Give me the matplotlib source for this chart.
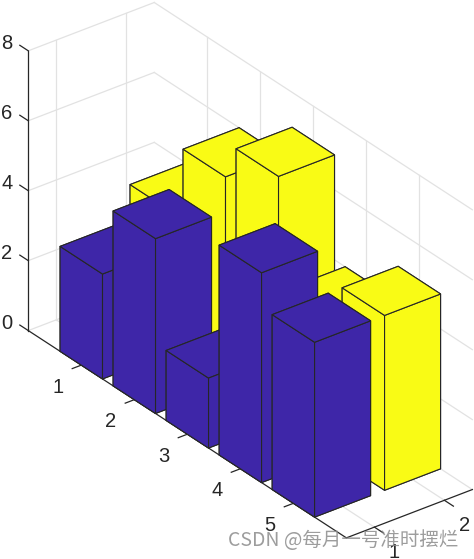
import matplotlib
matplotlib.use("Agg")
import matplotlib.pyplot as plt
from mpl_toolkits.mplot3d import proj3d

rows = [1, 2, 3, 4, 5]
blue_vals = [3, 5, 2, 6, 5]
yellow_vals = [4, 6, 7, 4, 5]
x_ticks = [1, 2]
y_ticks = [1, 2, 3, 4, 5]
z_ticks = [0, 2, 4, 6, 8]

BLUE = "#3E26A8"
YELLOW = "#F9FB15"
DARK = "#262626"
GRID = "#E2E2E2"
W = 0.8
x0, x1 = 0.6, 2.4
y0, y1 = 0, 6
z0, z1 = 0, 8

plt.rcParams["font.family"] = ["Liberation Sans", "DejaVu Sans"]

fig = plt.figure(figsize=(4.74, 5.59), dpi=100)
S = 616
cx, cy = 242, 278.5
ax = fig.add_axes([(cx - S / 2) / 474, 1 - (cy + S / 2) / 559, S / 474, S / 559],
                  projection="3d", computed_zorder=False)
ax.set_proj_type("ortho")
ax.view_init(elev=30, azim=-127.5)
ax.set_box_aspect((158.9, 523, 323.3))
ax.set_xlim(x0, x1)
ax.set_ylim(y1, y0)
ax.set_zlim(z0, z1)
ax.set_axis_off()
ax.patch.set_alpha(0)

# grid on the two back walls and the floor
for z in z_ticks:
    ax.plot([x0, x1], [y0, y0], [z, z], color=GRID, lw=0.9, zorder=1)
    ax.plot([x1, x1], [y0, y1], [z, z], color=GRID, lw=0.9, zorder=1)
for x in x_ticks:
    ax.plot([x, x], [y0, y0], [z0, z1], color=GRID, lw=0.9, zorder=1)
    ax.plot([x, x], [y0, y1], [z0, z0], color=GRID, lw=0.9, zorder=1)
for y in y_ticks:
    ax.plot([x1, x1], [y, y], [z0, z1], color=GRID, lw=0.9, zorder=1)
    ax.plot([x0, x1], [y, y], [z0, z0], color=GRID, lw=0.9, zorder=1)

# axis lines and tick marks
ax.plot([x0, x0], [y0, y0], [z0, z1], color=DARK, lw=0.9, zorder=1.5)
ax.plot([x0, x0], [y0, y1], [z0, z0], color=DARK, lw=0.9, zorder=1.5)
ax.plot([x0, x1], [y1, y1], [z0, z0], color=DARK, lw=0.9, zorder=1.5)
for z in z_ticks:
    ax.plot([x0, x0], [y0, y0 - 0.16], [z, z], color=DARK, lw=0.9, zorder=1.5)
for y in y_ticks:
    ax.plot([x0, x0 - 0.13], [y, y], [z0, z0], color=DARK, lw=0.9, zorder=1.5)
for x in x_ticks:
    ax.plot([x, x], [y1, y1 + 0.17], [z0, z0], color=DARK, lw=0.9, zorder=1.5)

# back column first, then the front one
order = 2
for col, vals, color in [(2, yellow_vals, YELLOW), (1, blue_vals, BLUE)]:
    for r, v in zip(rows, vals):
        ax.bar3d(col - W / 2, r - W / 2, 0, W, W, v, color=color, shade=False,
                 edgecolor=DARK, linewidth=0.8, zorder=order)
        order += 1


def tick_label(text, x, y, z, dx, dy):
    px, py, _ = proj3d.proj_transform(x, y, z, ax.get_proj())
    ax.annotate(text, (px, py), xytext=(dx, dy), textcoords="offset pixels",
                ha="center", va="center", fontsize=14.5, color=DARK, zorder=30)


for z in z_ticks:
    tick_label(str(z), x0, y0, z, -21.5, 7)
for y in y_ticks:
    tick_label(str(y), x0, y, z0, -23.5, -22)
for x in x_ticks:
    tick_label(str(x), x, y1, z0, 20, -25)

fig.text(343 / 474, 1 - 541 / 559, "CSDN @每月一号准时摆烂", ha="center", va="center",
         fontsize=14, color="#8c8c8c", alpha=0.85,
         family=["Noto Sans CJK SC", "DejaVu Sans"], zorder=40)

fig.savefig("out.png", dpi=100)
